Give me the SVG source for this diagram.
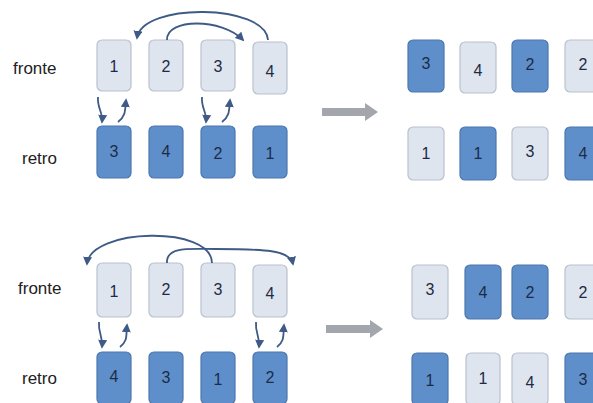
<svg xmlns="http://www.w3.org/2000/svg" width="593" height="403" viewBox="0 0 593 403">
<defs>
<style>
.lbl{font-family:"Liberation Sans",Arial,sans-serif;font-size:17px;fill:#222}
.num{font-family:"Liberation Sans",Arial,sans-serif;font-size:16px;fill:#1d2b45;text-anchor:middle;dominant-baseline:central}
.lt{fill:#dfe5ef;stroke:#b9c1cd;stroke-width:1.2}
.dk{fill:#5e8fcb;stroke:#4d77ad;stroke-width:1.2}
.conn{fill:none;stroke:#3e5a86;stroke-width:1.8}
.big{fill:#a3a7ad}
</style>
<marker id="ah" viewBox="0 0 10 10" refX="8" refY="5" markerWidth="5" markerHeight="5" orient="auto">
<path d="M0,0 L10,5 L0,10 z" fill="#3e5a86"/>
</marker>
</defs>
<rect width="593" height="403" fill="#fff"/>

<!-- top section -->
<text class="lbl" x="13" y="74">fronte</text>
<text class="lbl" x="22" y="164">retro</text>

<g id="t-f1"><rect class="lt" x="97" y="40" width="34" height="51" rx="5"/><text class="num" x="114" y="66">1</text></g>
<g id="t-f2"><rect class="lt" x="149" y="40" width="34" height="51" rx="5"/><text class="num" x="166" y="66">2</text></g>
<g id="t-f3"><rect class="lt" x="201" y="40" width="34" height="51" rx="5"/><text class="num" x="218" y="66">3</text></g>
<g id="t-f4"><rect class="lt" x="253" y="42" width="34" height="52" rx="5"/><text class="num" x="270" y="71">4</text></g>

<g id="t-r1"><rect class="dk" x="97" y="126" width="34" height="52" rx="5"/><text class="num" x="114" y="151">3</text></g>
<g id="t-r2"><rect class="dk" x="149" y="126" width="34" height="52" rx="5"/><text class="num" x="166" y="151">4</text></g>
<g id="t-r3"><rect class="dk" x="201" y="126" width="34" height="52" rx="5"/><text class="num" x="218" y="153">2</text></g>
<g id="t-r4"><rect class="dk" x="253" y="126" width="34" height="52" rx="5"/><text class="num" x="270" y="153">1</text></g>

<g id="t-arrow"><path class="big" d="M322,108 H365 V103 L378,112 L365,121 V116 H322 z"/></g>

<g id="t-o1"><rect class="dk" x="408" y="40" width="36" height="52" rx="5"/><text class="num" x="426" y="63">3</text></g>
<g id="t-o2"><rect class="lt" x="460" y="42" width="36" height="51" rx="5"/><text class="num" x="478" y="70">4</text></g>
<g id="t-o3"><rect class="dk" x="512" y="40" width="36" height="52" rx="5"/><text class="num" x="530" y="64">2</text></g>
<g id="t-o4"><rect class="lt" x="565" y="40" width="36" height="52" rx="5"/><text class="num" x="583" y="64">2</text></g>
<g id="t-p1"><rect class="lt" x="408" y="127" width="36" height="53" rx="5"/><text class="num" x="426" y="153">1</text></g>
<g id="t-p2"><rect class="dk" x="460" y="127" width="36" height="53" rx="5"/><text class="num" x="478" y="153">1</text></g>
<g id="t-p3"><rect class="lt" x="512" y="127" width="36" height="53" rx="5"/><text class="num" x="530" y="151">3</text></g>
<g id="t-p4"><rect class="dk" x="565" y="127" width="36" height="53" rx="5"/><text class="num" x="583" y="153">4</text></g>

<!-- bottom section -->
<text class="lbl" x="18" y="294">fronte</text>
<text class="lbl" x="22" y="384">retro</text>

<g id="b-f1"><rect class="lt" x="97" y="263" width="34" height="54" rx="5"/><text class="num" x="114" y="291">1</text></g>
<g id="b-f2"><rect class="lt" x="149" y="263" width="34" height="54" rx="5"/><text class="num" x="166" y="289">2</text></g>
<g id="b-f3"><rect class="lt" x="201" y="263" width="34" height="54" rx="5"/><text class="num" x="218" y="289">3</text></g>
<g id="b-f4"><rect class="lt" x="253" y="265" width="34" height="52" rx="5"/><text class="num" x="270" y="293">4</text></g>

<g id="b-r1"><rect class="dk" x="97" y="352" width="34" height="52" rx="5"/><text class="num" x="114" y="376">4</text></g>
<g id="b-r2"><rect class="dk" x="149" y="352" width="34" height="52" rx="5"/><text class="num" x="166" y="377">3</text></g>
<g id="b-r3"><rect class="dk" x="201" y="352" width="34" height="52" rx="5"/><text class="num" x="218" y="379">1</text></g>
<g id="b-r4"><rect class="dk" x="253" y="352" width="34" height="52" rx="5"/><text class="num" x="270" y="377">2</text></g>

<g id="b-arrow"><path class="big" d="M326,325 H370 V320 L383,329 L370,338 V333 H326 z"/></g>

<g id="b-o1"><rect class="lt" x="412" y="265" width="36" height="54" rx="5"/><text class="num" x="430" y="289">3</text></g>
<g id="b-o2"><rect class="dk" x="465" y="265" width="36" height="54" rx="5"/><text class="num" x="483" y="292">4</text></g>
<g id="b-o3"><rect class="dk" x="512" y="265" width="36" height="54" rx="5"/><text class="num" x="530" y="292">2</text></g>
<g id="b-o4"><rect class="lt" x="565" y="265" width="36" height="54" rx="5"/><text class="num" x="583" y="292">2</text></g>
<g id="b-p1"><rect class="dk" x="412" y="353" width="36" height="52" rx="5"/><text class="num" x="430" y="380">1</text></g>
<g id="b-p2"><rect class="lt" x="466" y="353" width="34" height="52" rx="5"/><text class="num" x="483" y="378">1</text></g>
<g id="b-p3"><rect class="lt" x="512" y="353" width="36" height="52" rx="5"/><text class="num" x="530" y="382">4</text></g>
<g id="b-p4"><rect class="dk" x="565" y="353" width="36" height="52" rx="5"/><text class="num" x="583" y="379">3</text></g>

<g id="connectors">
<path class="conn" marker-end="url(#ah)" d="M268,40 C266,4 142,2 137,38"/>
<path class="conn" marker-end="url(#ah)" d="M167,40 C166,18 222,18 243,40"/>
<path class="conn" marker-end="url(#ah)" d="M98,97 C97,108 103,112 102,122"/>
<path class="conn" marker-end="url(#ah)" d="M118,122 C126,116 125,110 126,100"/>
<path class="conn" marker-end="url(#ah)" d="M202,97 C201,108 207,112 206,122"/>
<path class="conn" marker-end="url(#ah)" d="M222,122 C230,116 229,110 230,100"/>

<path class="conn" marker-end="url(#ah)" d="M212,263 C212,225 90,228 87,264"/>
<path class="conn" marker-end="url(#ah)" d="M167,263 C166,246 190,249 215,249 C265,249 290,250 293,264"/>
<path class="conn" marker-end="url(#ah)" d="M99,322 C98,333 103,336 102,347"/>
<path class="conn" marker-end="url(#ah)" d="M120,347 C128,341 126,335 127,325"/>
<path class="conn" marker-end="url(#ah)" d="M256,322 C255,333 260,336 259,347"/>
<path class="conn" marker-end="url(#ah)" d="M277,347 C285,341 283,335 284,325"/>
</g>
</svg>
